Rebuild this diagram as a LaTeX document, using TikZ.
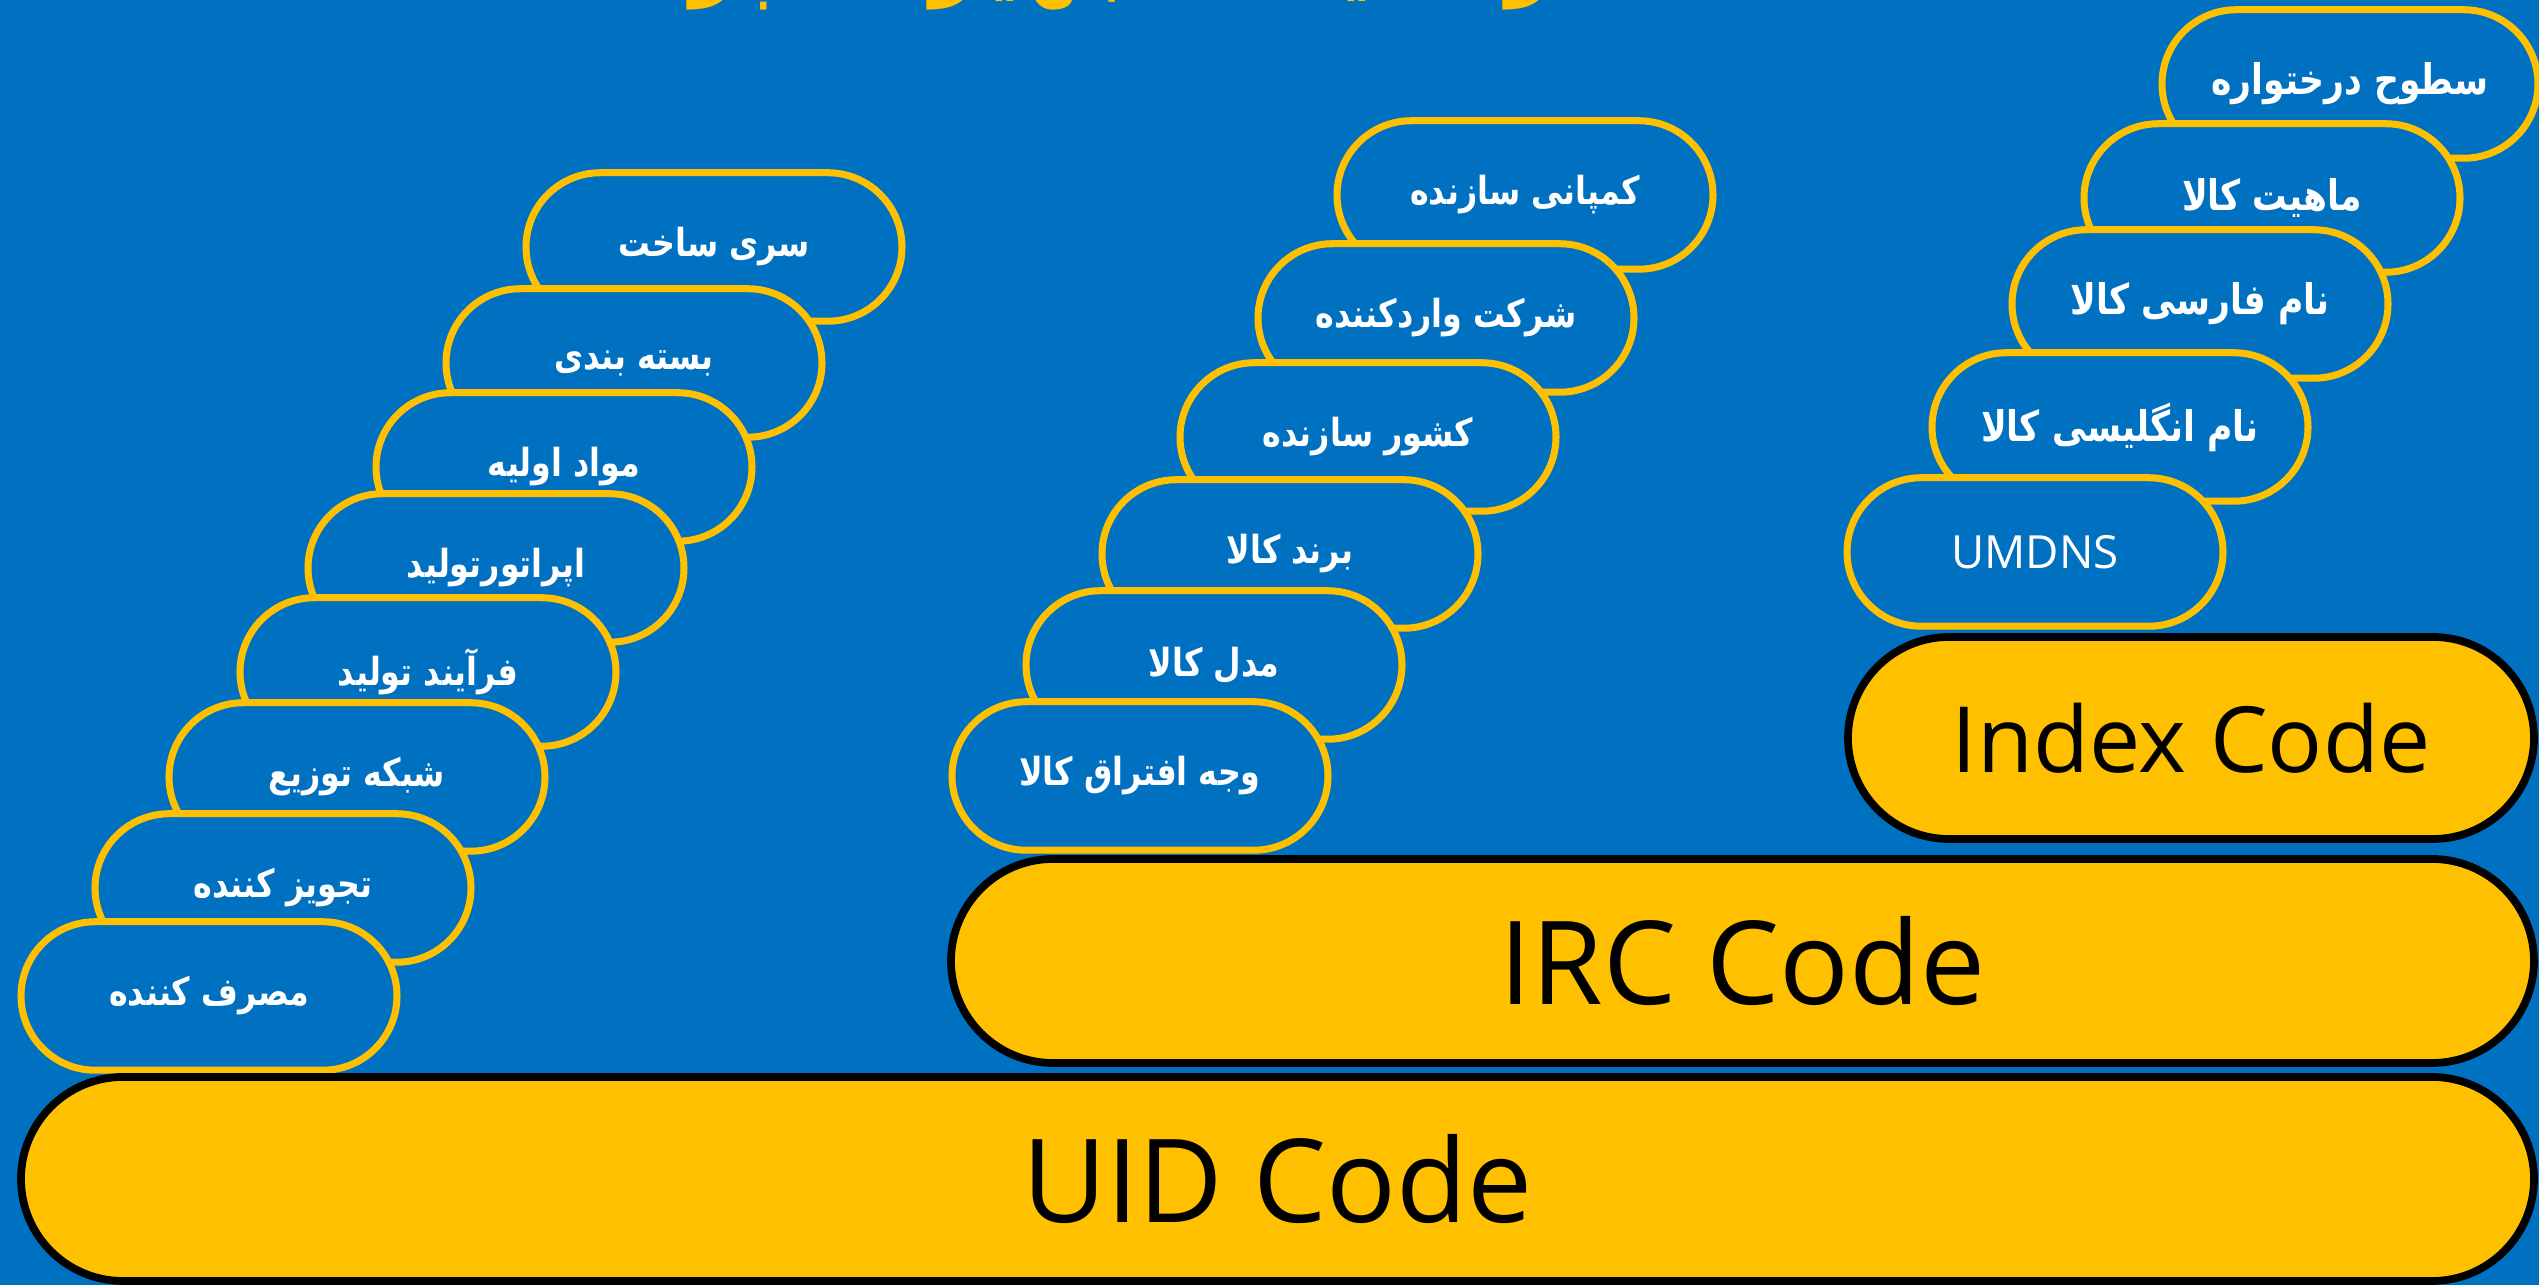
\documentclass[tikz,border=0pt]{standalone}
\usepackage{fontspec}
\setmainfont{Open Sans}
\newfontfamily\arabicfont[Script=Arabic,FakeStretch=0.82]{DejaVu Sans}
\TeXXeTstate=1
\usetikzlibrary{shapes.misc}
\definecolor{slideblue}{RGB}{0,112,192}
\definecolor{codeyellow}{RGB}{255,192,0}
\newcommand{\fatext}[1]{{\arabicfont\bfseries\beginR #1\endR}}
\tikzset{
  pill/.style={rounded rectangle,draw=codeyellow,line width=2pt,fill=slideblue,
    minimum width=3.76cm,minimum height=1.485cm,inner sep=0pt,text=white,
    font=\fontsize{11}{13}\selectfont},
  bigpill/.style={pill,font=\fontsize{12}{14}\selectfont},
  codepill/.style={rounded rectangle,draw=black,line width=2.2pt,fill=codeyellow,
    minimum height=2.04cm,inner sep=0pt,text=black}
}
\begin{document}
\begin{tikzpicture}[x=1cm,y=1cm]
  \useasboundingbox (0,0) rectangle (25.39,12.85);
  \clip (0,0) rectangle (25.39,12.85);
  \fill[slideblue] (0,0) rectangle (25.39,12.85);
  \node[anchor=base,text=codeyellow,font=\fontsize{31}{36}\selectfont] (title)
    at (11.37,13.01) {\fatext{ساختار کدینگ تجهیزات پزشکی}};
  % production chain
  \foreach \x/\y/\lab [count=\i] in {7.14/10.38/{سری ساخت},6.34/9.22/{بسته بندی},
      5.64/8.18/{مواد اولیه},4.96/7.17/{اپراتورتولید},4.28/6.13/{فرآیند تولید},
      3.57/5.08/{شبکه توزیع},2.83/3.97/{تجویز کننده},2.09/2.89/{مصرف کننده}} {
    \node[pill] (prod\i) at (\x,\y) {\fatext{\lab}};
  }
  % product identity
  \foreach \x/\y/\lab [count=\i] in {15.25/10.90/{کمپانی سازنده},14.46/9.67/{شرکت واردکننده},
      13.68/8.48/{کشور سازنده},12.90/7.31/{برند کالا},12.14/6.20/{مدل کالا},
      11.40/5.09/{وجه افتراق کالا}} {
    \node[pill] (item\i) at (\x,\y) {\fatext{\lab}};
  }
  % index levels
  \foreach \x/\y/\lab [count=\i] in {23.50/12.01/{سطوح درختواره},22.72/10.87/{ماهیت کالا},
      22.00/9.81/{نام فارسی کالا},21.20/8.58/{نام انگلیسی کالا}} {
    \node[bigpill] (level\i) at (\x,\y) {\fatext{\lab}};
  }
  \node[pill,font=\fontsize{13}{15}\selectfont] (umdns) at (20.35,7.33) {UMDNS};
  % code bars
  \node[codepill,minimum width=6.86cm,minimum height=2.02cm,
    font=\fontsize{26}{30}\selectfont] (index) at (21.91,5.47) {Index Code};
  \node[codepill,minimum width=15.83cm,font=\fontsize{33}{38}\selectfont]
    (irc) at (17.425,3.24) {IRC Code};
  \node[codepill,minimum width=25.13cm,font=\fontsize{33}{38}\selectfont]
    (uid) at (12.775,1.06) {UID Code};
\end{tikzpicture}
\end{document}
